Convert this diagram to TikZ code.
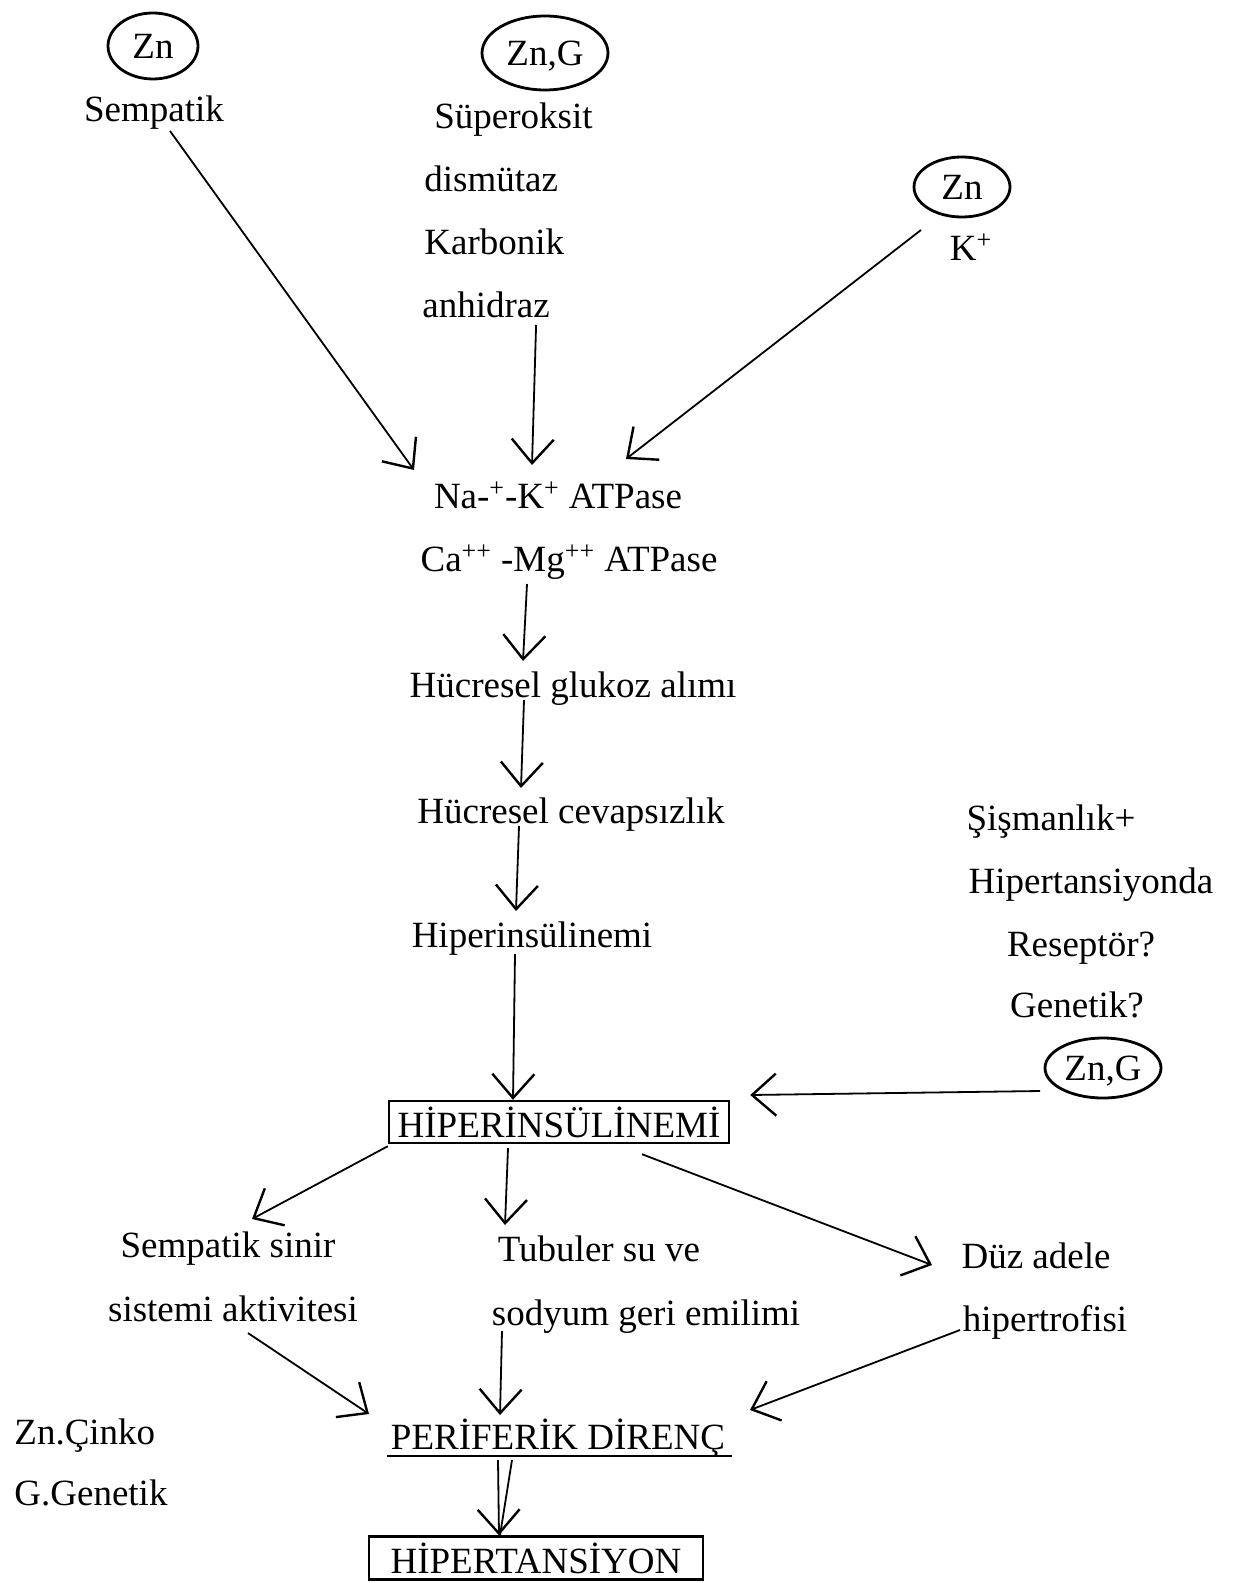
\documentclass[tikz,border=0pt]{standalone}
\usepackage{fontspec}
\setmainfont{Liberation Serif}
\usetikzlibrary{shapes.geometric, arrows.meta, calc}

\begin{document}
\begin{tikzpicture}[x=0.5pt, y=-0.5pt,
    every node/.style={font=\fontsize{18.5}{22}\selectfont, inner sep=2pt, text depth=0pt},
    circ/.style={draw, ellipse, line width=1.4pt, inner sep=0pt},
    boxed/.style={draw, line width=1.2pt, inner sep=0pt},
    arr/.style={line width=0.9pt, -{Straight Barb[length=12pt, width=21pt, line width=1.2pt]}}]
    \useasboundingbox (0,0) rectangle (1236,1583);

    % TOP: the three sources
    \node[circ, minimum width=45pt, minimum height=33pt] (zna) at (153,46) {Zn};
    \node (semp) at (154,109) {Sempatik};
    \node[circ, minimum width=63pt, minimum height=37pt] (znb) at (545,53) {Zn,G};
    \node[anchor=west] (supa) at (430,116) {Süperoksit};
    \node[anchor=west] (supb) at (420,179) {dismütaz};
    \node[anchor=west] (supc) at (420,242) {Karbonik};
    \node[anchor=west] (supd) at (418,305) {anhidraz};
    \node[circ, minimum width=48pt, minimum height=30pt] (znc) at (962,187) {Zn};
    \node (kp) at (971,247) {K\textsuperscript{+}};

    % MIDDLE: the chain down to the box
    \node (na) at (558,495) {Na-\textsuperscript{+}-K\textsuperscript{+} ATPase};
    \node (ca) at (569,558) {Ca\textsuperscript{++} -Mg\textsuperscript{++} ATPase};
    \node (glu) at (573,685) {Hücresel glukoz alımı};
    \node (cev) at (571,811) {Hücresel cevapsızlık};
    \node (hip) at (532,935) {Hiperinsülinemi};
    \node[boxed, minimum width=170pt, minimum height=21pt] (hipbox) at (559,1122) {HİPERİNSÜLİNEMİ};

    % RIGHT: obesity side
    \node (ra) at (1051,818) {Şişmanlık+};
    \node (rb) at (1091,881) {Hipertansiyonda};
    \node (rc) at (1081,944) {Reseptör?};
    \node (rd) at (1077,1005) {Genetik?};
    \node[circ, minimum width=58pt, minimum height=30pt] (znd) at (1103,1068) {Zn,G};

    % LOWER: three effects
    \node (ssa) at (228,1245) {Sempatik sinir};
    \node (ssb) at (233,1309) {sistemi aktivitesi};
    \node (tsa) at (599,1249) {Tubuler su ve};
    \node (tsb) at (646,1313) {sodyum geri emilimi};
    \node (dza) at (1036,1256) {Düz adele};
    \node (dzb) at (1045,1318) {hipertrofisi};

    % BOTTOM
    \node (peri) at (558,1434) {PERİFERİK DİRENÇ};
    \draw[line width=0.9pt] ($(peri.center)+(-171,22)$) -- ($(peri.center)+(174,22)$);
    \node[boxed, minimum width=167pt, minimum height=21.5pt] (hipt) at (536,1558) {HİPERTANSİYON};
    \node[anchor=west] (lega) at (10,1432) {Zn.Çinko};
    \node[anchor=west] (legb) at (10,1493) {G.Genetik};

    % Arrows
    \draw[arr] ($(semp.center)+(16,22)$) -- ($(na.center)+(-144,-25)$);
    \draw[arr] ($(supd.center)+(50,20)$) -- ($(na.center)+(-26,-30)$);
    \draw[arr] ($(znc.center)+(-41,43)$) -- ($(na.center)+(68,-36)$);
    \draw[arr] ($(ca.center)+(-42,26)$) -- ($(glu.center)+(-50,-24)$);
    \draw[arr] ($(glu.center)+(-49,15)$) -- ($(cev.center)+(-50,-23)$);
    \draw[arr] ($(cev.center)+(-52,15)$) -- ($(hip.center)+(-16,-24)$);
    \draw[arr] ($(hip.center)+(-17,19)$) -- ($(hipbox.north)+(-46,0)$);
    \draw[arr] ($(znd.center)+(-63,23)$) -- ($(hipbox.east)+(20,-27)$);
    \draw[arr] ($(hipbox.south west)+(0,2)$) -- ($(ssa.center)+(24,-26)$);
    \draw[arr] ($(hipbox.south)+(-51,4)$) -- ($(tsa.center)+(-94,-24)$);
    \draw[arr] ($(hipbox.south)+(83,10)$) -- ($(dza.center)+(-104,9)$);
    \draw[arr] ($(ssb.center)+(15,24)$) -- ($(peri.center)+(-189,-20)$);
    \draw[arr] ($(tsb.center)+(-144,18)$) -- ($(peri.center)+(-58,-19)$);
    \draw[arr] ($(dzb.center)+(-85,12)$) -- ($(peri.center)+(192,-24)$);
    % double arrow
    \draw[line width=0.9pt] ($(peri.center)+(-46,26)$) -- ($(hipt.north)+(-36,0)$);
    \draw[arr] ($(peri.center)+(-60,26)$) -- ($(hipt.north)+(-37,0)$);
\end{tikzpicture}
\end{document}
